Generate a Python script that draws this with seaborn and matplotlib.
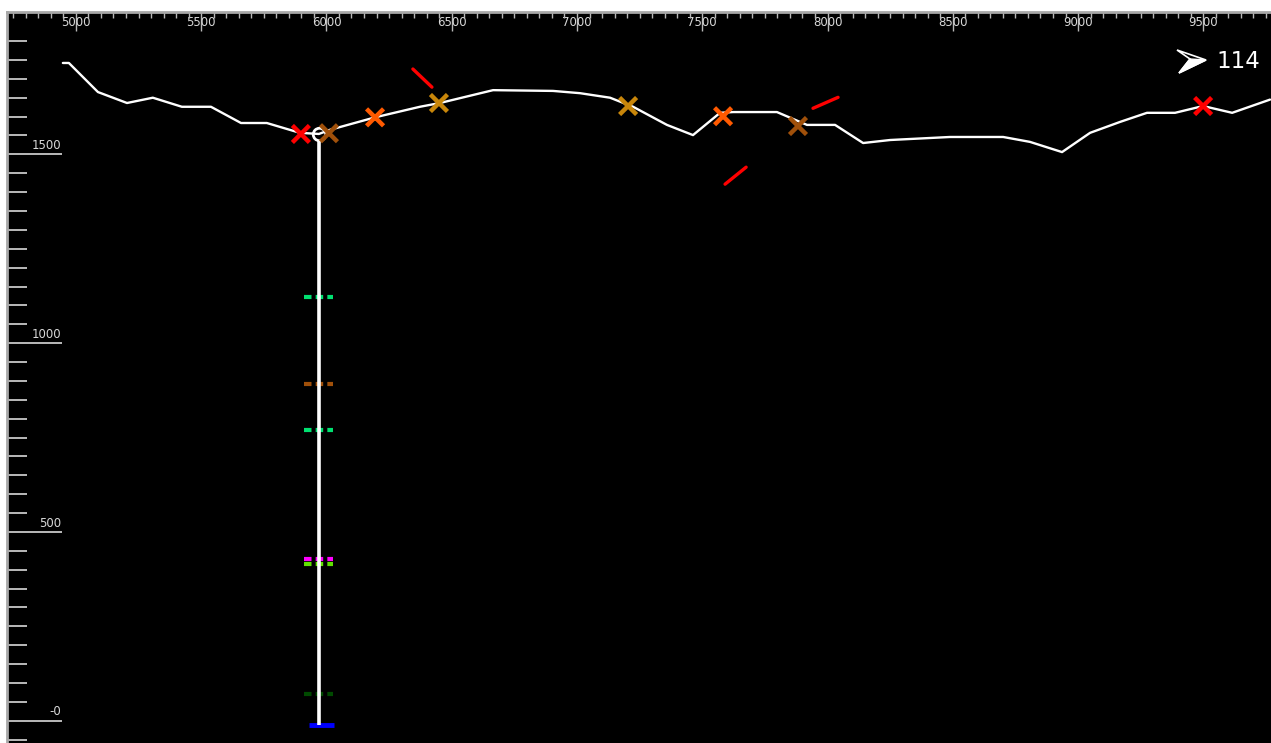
import numpy as np
import pandas as pd
import matplotlib
matplotlib.use("Agg")
import matplotlib.pyplot as plt
from matplotlib.patches import Polygon
from matplotlib.ticker import MultipleLocator, FixedLocator
import matplotlib.transforms as mtransforms
import seaborn as sns

# ---------------- data ----------------
# terrain profile (distance, elevation)
profile_x = [4948, 4972, 5088, 5204, 5307, 5423, 5539, 5659, 5762, 5894, 5970, 6014,
             6194, 6373, 6453, 6665, 6904, 7012, 7132, 7224, 7359, 7463, 7571, 7623,
             7798, 7918, 8030, 8142, 8250, 8489, 8701, 8808, 8936, 9048, 9168, 9275,
             9387, 9499, 9615, 9766]
profile_z = [1742, 1742, 1665, 1636, 1650, 1626, 1626, 1583, 1583, 1557, 1554, 1565,
             1598, 1626, 1636, 1670, 1668, 1662, 1650, 1626, 1578, 1551, 1610, 1612,
             1612, 1578, 1578, 1530, 1538, 1546, 1546, 1533, 1506, 1557, 1586, 1610,
             1610, 1628, 1610, 1645]

# surface sample markers
marker_x = [5898, 6010, 6194, 6449, 7204, 7583, 7882, 9499]
marker_z = [1554, 1556, 1598, 1636, 1628, 1601, 1575, 1628]
marker_kind = ["A", "B", "C", "D", "D", "C", "B", "A"]
marker_palette = {"A": "#FF0000", "B": "#A0500A", "C": "#FF5A00", "D": "#C8860A"}

# structural measurement segments (red)
seg_x0 = [6345, 7591, 7942]
seg_z0 = [1726, 1421, 1622]
seg_x1 = [6421, 7675, 8042]
seg_z1 = [1678, 1466, 1651]

# borehole
bh_x = 5970
bh_top = 1554
bh_bottom = -11
interval_z = [1122, 892, 770, 428, 415, 71]
interval_colors = ["#00E070", "#A0500A", "#00E070", "#FF00FF", "#60E000", "#004A00"]
end_z = [-11]
end_colors = ["#0000FF"]

# axes ticks / labels
y_major = [0, 500, 1000, 1500]
y_major_labels = ["-0", "500", "1000", "1500"]
y_minor = list(range(-50, 1801, 50))
x_major = [5000, 5500, 6000, 6500, 7000, 7500, 8000, 8500, 9000, 9500]
x_major_labels = ["5000", "5500", "6000", "6500", "7000", "7500", "8000", "8500", "9000", "9500"]
azimuth_label = "114"

# ---------------- figure ----------------
sns.set_theme(style="dark", rc={"axes.facecolor": "black", "figure.facecolor": "white"})
plt.rcParams["font.family"] = ["DejaVu Sans"]

W, H = 1271, 743
fig = plt.figure(figsize=(W / 100, H / 100), dpi=100)
ax = fig.add_axes([7 / W, 0, (W - 7) / W, (H - 12) / H])
ax.set_facecolor("black")

# terrain line
df_prof = pd.DataFrame({"x": profile_x, "z": profile_z})
sns.lineplot(data=df_prof, x="x", y="z", color="white", lw=1.7, ax=ax,
             sort=False, estimator=None, zorder=3)

# borehole intervals (dashed) and end mark
ax.hlines(interval_z, bh_x - 58, bh_x + 58, colors=interval_colors,
          linestyles=(0, (1.8, 1.0)), lw=3, zorder=4)
ax.hlines(end_z, bh_x - 40, bh_x + 60, colors=end_colors, lw=3.5, zorder=4)

# borehole trace
ax.plot([bh_x, bh_x], [bh_top - 15, bh_bottom], color="white", lw=2.6, zorder=5,
        solid_capstyle="butt")
ax.plot([bh_x], [bh_top], marker="o", mfc="none", mec="white", ms=9, mew=2, zorder=6)

# red measurement segments
for x0, z0, x1, z1 in zip(seg_x0, seg_z0, seg_x1, seg_z1):
    ax.plot([x0, x1], [z0, z1], color="#FF0000", lw=2.4, solid_capstyle="round", zorder=4)

# sample markers
df_mark = pd.DataFrame({"x": marker_x, "z": marker_z, "kind": marker_kind})
sns.scatterplot(data=df_mark, x="x", y="z", hue="kind", palette=marker_palette,
                marker="x", s=150, linewidth=3.2, legend=False, ax=ax, zorder=7)

# ---------------- axes styling ----------------
ax.set_xlim(4725, 9770)
ax.set_ylim(-59, 1877)
ax.set_xlabel("")
ax.set_ylabel("")
ax.grid(False)

for s in ["right", "bottom"]:
    ax.spines[s].set_visible(False)
for s in ["top", "left"]:
    ax.spines[s].set_visible(True)
    ax.spines[s].set_color("#A8A8A8")
    ax.spines[s].set_linewidth(2)

# top x axis
ax.xaxis.set_ticks_position("top")
ax.set_xticks(x_major)
ax.set_xticklabels(x_major_labels)
ax.xaxis.set_minor_locator(MultipleLocator(50))
ax.tick_params(axis="x", which="major", direction="in", length=13.5, width=1,
               color="#B8B8B8", labelsize=8.5, labelcolor="#D8D8D8", pad=-12,
               top=True, bottom=False, labeltop=True, labelbottom=False)
ax.tick_params(axis="x", which="minor", direction="in", length=4.5, width=1,
               color="#B8B8B8", top=True, bottom=False)

# left y axis
ax.set_yticks(y_major)
ax.yaxis.set_minor_locator(FixedLocator(y_minor))
ax.tick_params(axis="y", which="major", direction="in", length=39.5, width=1.3,
               color="#C8C8C8", labelleft=False, left=True)
ax.tick_params(axis="y", which="minor", direction="in", length=14.5, width=1.3,
               color="#C8C8C8", left=True)
trans = mtransforms.blended_transform_factory(ax.transAxes, ax.transData)
for v, lab in zip(y_major, y_major_labels):
    ax.text((61 - 7) / (W - 7), v + 6, lab, transform=trans, ha="right", va="bottom",
            fontsize=8.5, color="#D8D8D8", zorder=8)

# azimuth arrow + label
def fp(px, py):
    return (px / W, 1 - py / H)

outline = Polygon([fp(1177, 50), fp(1206, 60), fp(1179, 73), fp(1190, 59)],
                  closed=True, fill=False, edgecolor="white", lw=1.2,
                  transform=fig.transFigure, zorder=10)
filled = Polygon([fp(1190, 59), fp(1206, 60), fp(1179, 73)], closed=True,
                 facecolor="white", edgecolor="white", lw=1,
                 transform=fig.transFigure, zorder=10)
fig.patches.extend([outline, filled])
fig.text(1216 / W, 1 - 62 / H, azimuth_label, color="white", fontsize=16.5,
         ha="left", va="center", family=["DejaVu Sans"])

fig.savefig("out.png", dpi=100, facecolor="white")
